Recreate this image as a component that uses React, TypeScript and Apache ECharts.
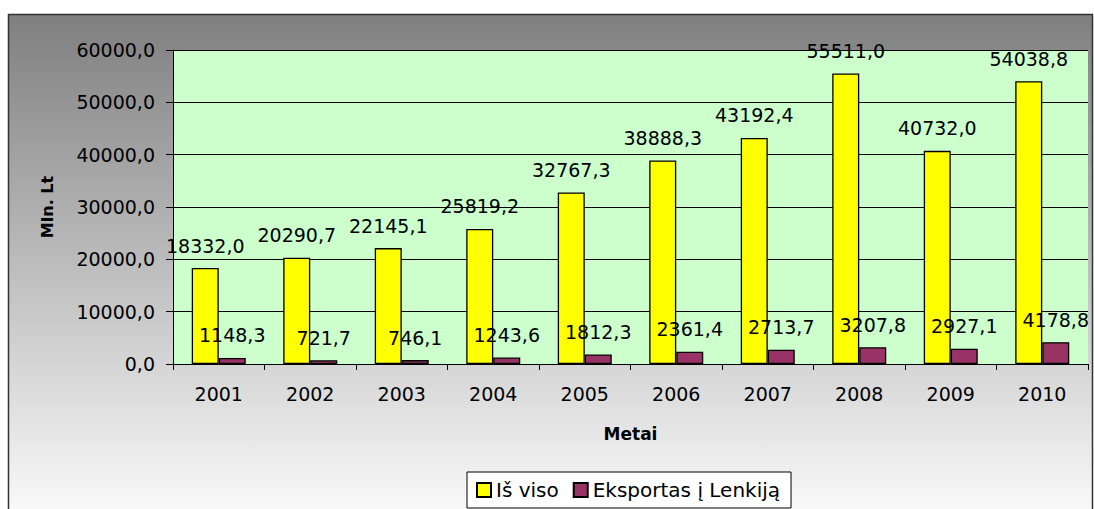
import React, { useEffect, useRef } from "react";
import * as echarts from "echarts";

const years = ["2001", "2002", "2003", "2004", "2005", "2006", "2007", "2008", "2009", "2010"];
const totalValues = [18332.0, 20290.7, 22145.1, 25819.2, 32767.3, 38888.3, 43192.4, 55511.0, 40732.0, 54038.8];
const polandValues = [1148.3, 721.7, 746.1, 1243.6, 1812.3, 2361.4, 2713.7, 3207.8, 2927.1, 4178.8];
const seriesNames = ["Iš viso", "Eksportas į Lenkiją"];

const FONT = "DejaVu Sans";
const fmt = (v: number) => v.toFixed(1).replace(".", ",");

export default function App() {
  const ref = useRef<HTMLDivElement>(null);
  useEffect(() => {
    if (!ref.current) return;
    const chart = echarts.init(ref.current, undefined, { renderer: "svg" });
    const labelStyle = {
      show: true,
      position: "top" as const,
      distance: 13,
      fontFamily: FONT,
      fontSize: 19,
      color: "#000",
      formatter: (p: any) => fmt(p.value),
    };
    chart.setOption({
      animation: false,
      backgroundColor: "#fff",
      textStyle: { fontFamily: FONT },
      graphic: [
        {
          type: "rect",
          z: -100,
          shape: { x: 8.5, y: 14.5, width: 1084, height: 520 },
          style: {
            fill: new echarts.graphic.LinearGradient(0, 0, 0, 1, [
              { offset: 0, color: "#7f7f7f" },
              { offset: 1, color: "#ffffff" },
            ]),
            stroke: "#333",
            lineWidth: 1.5,
          },
        },
      ],
      grid: {
        left: 173,
        top: 50,
        right: 6,
        bottom: 145,
        show: true,
        backgroundColor: "#CCFFCC",
        borderWidth: 0,
      },
      legend: {
        left: 467,
        top: 472,
        padding: [8, 11, 8, 9],
        itemGap: 14,
        itemWidth: 14,
        itemHeight: 14,
        icon: "rect",
        backgroundColor: "#fff",
        borderColor: "#000",
        borderWidth: 1,
        borderRadius: 0,
        textStyle: { fontFamily: FONT, fontSize: 20, color: "#000" },
        data: seriesNames,
      },
      xAxis: {
        type: "category",
        data: years,
        name: "Metai",
        nameLocation: "middle",
        nameGap: 61,
        nameTextStyle: { fontFamily: FONT, fontSize: 17, fontWeight: "bold", color: "#000" },
        axisLine: { lineStyle: { color: "#000", width: 1 } },
        axisTick: { show: true, length: 6, lineStyle: { color: "#000" } },
        axisLabel: { fontFamily: FONT, fontSize: 19, color: "#000", margin: 20 },
        splitLine: { show: false },
      },
      yAxis: {
        type: "value",
        min: 0,
        max: 60000,
        interval: 10000,
        name: "Mln. Lt",
        nameLocation: "middle",
        nameRotate: 90,
        nameGap: 118,
        nameTextStyle: { fontFamily: FONT, fontSize: 16, fontWeight: "bold", color: "#000" },
        axisLine: { show: true, lineStyle: { color: "#000", width: 1 } },
        axisTick: { show: true, length: 7, lineStyle: { color: "#000" } },
        axisLabel: { fontFamily: FONT, fontSize: 19, color: "#000", margin: 18, formatter: fmt },
        splitLine: { show: true, lineStyle: { color: "#000", width: 1 } },
      },
      series: [
        {
          name: seriesNames[0],
          type: "bar",
          data: totalValues,
          barWidth: 27,
          barGap: "0%",
          itemStyle: { color: "#FFFF00", borderColor: "#000", borderWidth: 1.3 },
          label: labelStyle,
        },
        {
          name: seriesNames[1],
          type: "bar",
          data: polandValues,
          barWidth: 27,
          barGap: "0%",
          itemStyle: { color: "#993366", borderColor: "#000", borderWidth: 1.3 },
          label: labelStyle,
        },
      ],
    });
    return () => chart.dispose();
  }, []);
  return (
    <div
      ref={ref}
      style={{ position: "fixed", left: 0, top: 0, width: 1094, height: 509 }}
    />
  );
}
